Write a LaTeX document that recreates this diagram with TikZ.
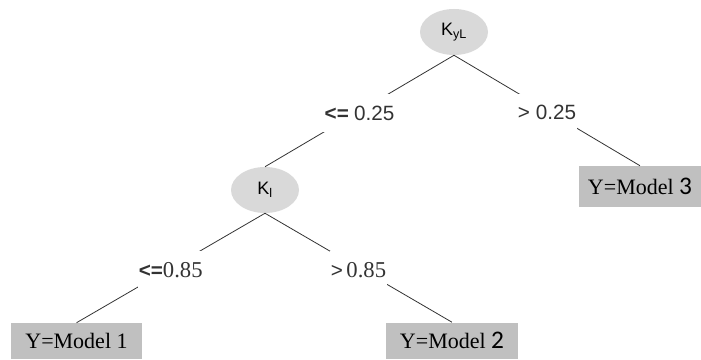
\documentclass[tikz,border=0pt]{standalone}
\usepackage{fontspec}
\setmainfont{Liberation Serif}
\setsansfont{Liberation Sans}
\newfontfamily\carlito{Carlito}
\usetikzlibrary{shapes.geometric}
\definecolor{nodegray}{HTML}{D9D9D9}
\definecolor{leafgray}{HTML}{C0C0C0}
\tikzset{
  split/.style={ellipse, fill=nodegray, minimum width=51pt, minimum height=34.5pt,
    inner sep=0pt, font=\sffamily\fontsize{13.5}{15}\selectfont},
  leaf/.style={rectangle, fill=leafgray, minimum width=98.5pt, minimum height=27pt,
    inner sep=0pt, font=\fontsize{16.5}{19}\selectfont},
  cond/.style={fill=white, inner xsep=1pt, inner ysep=0pt, minimum height=28pt,
    yshift=-1.5pt, font=\fontsize{15.5}{18}\selectfont},
  branch/.style={line width=0.6pt, black!80},
}

\begin{document}
\begin{tikzpicture}[x=0.75pt,y=-0.75pt]
        \useasboundingbox (0,0) rectangle (701,360);
        % split nodes
        \node[split] (kyl) at (454,32) {K\textsubscript{yL}};
        \node[split] (kl) at (265,190) {K\textsubscript{l}};
        % leaves
        \node[leaf] (m1) at (76.5,341) {Y=Model 1};
        \node[leaf] (m2) at (452,340.5) {Y=Model {\carlito\fontsize{19}{19}\selectfont 2}};
        \node[leaf, minimum width=91.5pt, minimum height=30.75pt] (m3) at (640,186.5)
          {Y=Model {\carlito\fontsize{19}{19}\selectfont 3}};
        % branches
        \draw[branch] (kyl.south) -- node[cond] {\textsf{\bfseries<=} \textsf{0.25}} (kl.north);
        \draw[branch] (kyl.south) -- node[cond] {\textsf{> 0.25}} (m3.north);
        \draw[branch] (kl.south) -- node[cond] {\textsf{\bfseries<=}{\fontsize{17}{18}\selectfont 0.85}} (m1.north);
        \draw[branch] (kl.south) -- node[cond] {\textsf{>}\,{\fontsize{17}{18}\selectfont 0.85}} (m2.north);
\end{tikzpicture}
\end{document}
